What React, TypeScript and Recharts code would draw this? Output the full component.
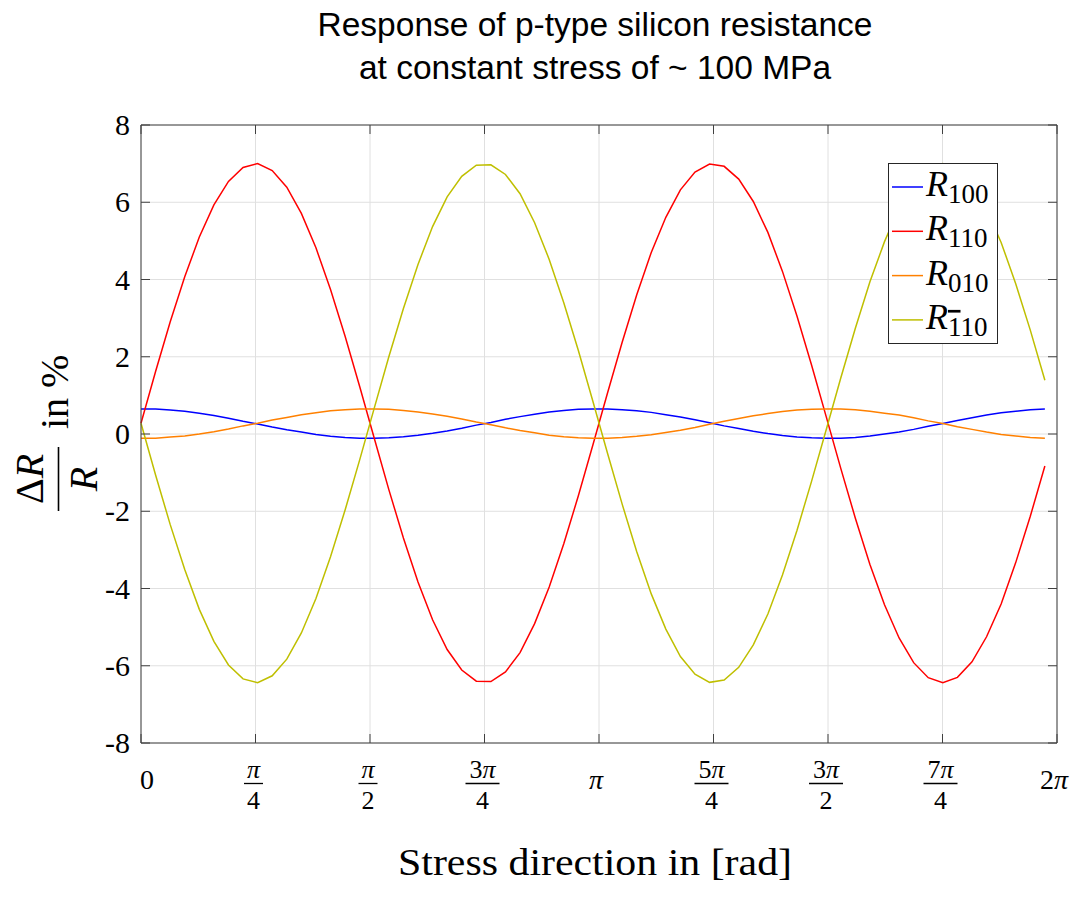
import React from 'react';
import { LineChart, Line, XAxis, YAxis, CartesianGrid, Legend } from 'recharts';

// Stress direction (rad), sampled every 0.1 rad
const theta = [
  0, 0.1, 0.2, 0.3, 0.4, 0.5, 0.6, 0.7, 0.8, 0.9, 1.0, 1.1, 1.2, 1.3, 1.4, 1.5,
  1.6, 1.7, 1.8, 1.9, 2.0, 2.1, 2.2, 2.3, 2.4, 2.5, 2.6, 2.7, 2.8, 2.9, 3.0, 3.1,
  3.2, 3.3, 3.4, 3.5, 3.6, 3.7, 3.8, 3.9, 4.0, 4.1, 4.2, 4.3, 4.4, 4.5, 4.6, 4.7,
  4.8, 4.9, 5.0, 5.1, 5.2, 5.3, 5.4, 5.5, 5.6, 5.7, 5.8, 5.9, 6.0, 6.1, 6.2,
];

// ΔR/R in % for each resistor orientation
const r100 = [
  0.65, 0.65, 0.62, 0.59, 0.54, 0.48, 0.41, 0.33, 0.26, 0.18, 0.11, 0.05, -0.01, -0.06, -0.09, -0.11,
  -0.11, -0.10, -0.07, -0.03, 0.02, 0.08, 0.15, 0.23, 0.30, 0.38, 0.45, 0.51, 0.57, 0.61, 0.64, 0.65,
  0.65, 0.63, 0.60, 0.56, 0.50, 0.44, 0.37, 0.29, 0.21, 0.14, 0.07, 0.01, -0.04, -0.08, -0.10, -0.11,
  -0.11, -0.09, -0.05, 0.00, 0.05, 0.12, 0.20, 0.27, 0.35, 0.42, 0.49, 0.55, 0.59, 0.63, 0.65,
];
const r110 = [
  0.28, 1.62, 2.90, 4.07, 5.10, 5.93, 6.54, 6.90, 7.00, 6.82, 6.39, 5.71, 4.82, 3.74, 2.53, 1.23,
  -0.11, -1.44, -2.69, -3.83, -4.81, -5.58, -6.11, -6.40, -6.41, -6.16, -5.66, -4.91, -3.96, -2.84, -1.60, -0.28,
  1.06, 2.37, 3.60, 4.70, 5.61, 6.32, 6.78, 6.99, 6.93, 6.60, 6.02, 5.22, 4.21, 3.05, 1.78, 0.45,
  -0.89, -2.18, -3.38, -4.42, -5.28, -5.92, -6.31, -6.44, -6.30, -5.90, -5.25, -4.40, -3.33, -2.13, -0.83,
];
const r010 = [
  -0.11, -0.11, -0.08, -0.05, 0.00, 0.06, 0.13, 0.21, 0.28, 0.36, 0.43, 0.50, 0.55, 0.60, 0.63, 0.65,
  0.65, 0.64, 0.61, 0.57, 0.52, 0.46, 0.39, 0.31, 0.24, 0.16, 0.09, 0.03, -0.03, -0.07, -0.10, -0.11,
  -0.11, -0.09, -0.06, -0.02, 0.04, 0.10, 0.17, 0.25, 0.33, 0.40, 0.47, 0.53, 0.58, 0.62, 0.64, 0.65,
  0.65, 0.63, 0.59, 0.54, 0.49, 0.42, 0.34, 0.27, 0.19, 0.12, 0.05, -0.01, -0.05, -0.09, -0.11,
];
const rBar110 = [
  0.28, -1.06, -2.34, -3.51, -4.54, -5.37, -5.98, -6.34, -6.44, -6.26, -5.83, -5.15, -4.26, -3.18, -1.97, -0.67,
  0.67, 2.00, 3.25, 4.39, 5.37, 6.14, 6.67, 6.96, 6.97, 6.72, 6.22, 5.47, 4.52, 3.40, 2.16, 0.84,
  -0.50, -1.81, -3.04, -4.14, -5.05, -5.76, -6.22, -6.43, -6.37, -6.04, -5.46, -4.66, -3.65, -2.49, -1.22, 0.11,
  1.45, 2.74, 3.94, 4.98, 5.84, 6.48, 6.87, 7.00, 6.86, 6.46, 5.81, 4.96, 3.89, 2.69, 1.39,
];

// Axis ticks
const xTickQuarters = [0, 1, 2, 3, 4, 5, 6, 7, 8];
const xTickNumerators = ['0', 'π', 'π', '3π', 'π', '5π', '3π', '7π', '2π'];
const xTickDenominators = ['', '4', '2', '4', '', '4', '2', '4', ''];
const yTicks = [-8, -6, -4, -2, 0, 2, 4, 6, 8];

const titleLines = ['Response of p-type silicon resistance', 'at constant stress of ~ 100 MPa'];
const xLabel = 'Stress direction in [rad]';

const series = [
  { key: 'r100', color: '#0000ff', sub: '100', bar: false },
  { key: 'r110', color: '#ff0000', sub: '110', bar: false },
  { key: 'r010', color: '#ff8000', sub: '010', bar: false },
  { key: 'rBar110', color: '#bfbf00', sub: '110', bar: true },
];

const TWO_PI = 2 * Math.PI;
const xTicks = xTickQuarters.map((q) => (q * Math.PI) / 4);

const data = theta.map((t, i) => ({
  theta: t,
  r100: r100[i],
  r110: r110[i],
  r010: r010[i],
  rBar110: rBar110[i],
}));

const SERIF = '"Liberation Serif", "Times New Roman", serif';
const SANS = '"Liberation Sans", Arial, sans-serif';
const AXIS = '#404040';
const TICK_LEN = 9;

const renderPi = (s: string) => {
  const parts = s.split('π');
  if (parts.length === 1) return s;
  return (
    <>
      {parts[0]}
      <tspan fontStyle="italic">π</tspan>
      {parts[1]}
    </>
  );
};

const XTickBottom = (props: any) => {
  const { x, y, payload } = props;
  const k = Math.round(payload.value / (Math.PI / 4));
  const num = xTickNumerators[k];
  const den = xTickDenominators[k];
  const barW = num.length > 1 ? 34 : 19;
  return (
    <g>
      <line x1={x} x2={x} y1={y} y2={y - TICK_LEN} stroke={AXIS} strokeWidth={1} />
      {den ? (
        <g fontFamily={SERIF} fill="#000">
          <text x={x - 2} y={y + 35} textAnchor="middle" fontSize={26}>
            {renderPi(num)}
          </text>
          <line x1={x - 2 - barW / 2} x2={x - 2 + barW / 2} y1={y + 40.5} y2={y + 40.5} stroke="#000" strokeWidth={1.3} />
          <text x={x - 2} y={y + 66} textAnchor="middle" fontSize={26}>
            {den}
          </text>
        </g>
      ) : (
        <text x={x + (k === 0 ? 6 : -3)} y={y + 46} textAnchor="middle" fontSize={28} fontFamily={SERIF} fill="#000">
          {renderPi(num)}
        </text>
      )}
    </g>
  );
};

const XTickTop = (props: any) => {
  const { x, y } = props;
  return <line x1={x} x2={x} y1={y} y2={y + TICK_LEN} stroke={AXIS} strokeWidth={1} />;
};

const YTickLeft = (props: any) => {
  const { x, y, payload } = props;
  return (
    <g>
      <line x1={x} x2={x + TICK_LEN} y1={y} y2={y} stroke={AXIS} strokeWidth={1} />
      <text x={x - 11} y={y} dy={10} textAnchor="end" fontSize={30} fontFamily={SERIF} fill="#000">
        {String(payload.value)}
      </text>
    </g>
  );
};

const YTickRight = (props: any) => {
  const { x, y } = props;
  return <line x1={x - TICK_LEN} x2={x} y1={y} y2={y} stroke={AXIS} strokeWidth={1} />;
};

const TitleLabel = (props: any) => {
  const vb = props.viewBox;
  const cx = vb.x + vb.width / 2 - 4;
  const base = vb.y + vb.height;
  return (
    <g fontFamily={SANS} fontSize={33.5} fill="#000" textAnchor="middle">
      <text x={cx} y={base - 89}>{titleLines[0]}</text>
      <text x={cx} y={base - 46}>{titleLines[1]}</text>
    </g>
  );
};

const XAxisLabel = (props: any) => {
  const vb = props.viewBox;
  return (
    <text
      x={vb.x + vb.width / 2 - 4}
      y={vb.y + 132}
      textAnchor="middle"
      fontFamily={SERIF}
      fontSize={38}
      textLength={394}
      lengthAdjust="spacingAndGlyphs"
      fill="#000"
    >
      {xLabel}
    </text>
  );
};

const YAxisLabel = (props: any) => {
  const vb = props.viewBox;
  const cx = vb.x + 58.5;
  const cy = vb.y + vb.height / 2 + 46;
  return (
    <g transform={`translate(${cx},${cy}) rotate(-90)`} fontFamily={SERIF} fill="#000">
      <text x={1} y={-16} textAnchor="middle" fontSize={40}>
        Δ<tspan fontStyle="italic">R</tspan>
      </text>
      <line x1={-31} x2={33} y1={0} y2={0} stroke="#000" strokeWidth={1.6} />
      <text x={1} y={38} textAnchor="middle" fontSize={40} fontStyle="italic">
        R
      </text>
      <text x={51} y={9.5} fontSize={40}>
        in %
      </text>
    </g>
  );
};

const LegendContent = () => (
  <svg width={110} height={181} style={{ display: 'block' }}>
    <rect x={0.5} y={0.5} width={109} height={180} fill="#fff" stroke="#262626" strokeWidth={1} />
    {series.map((s, i) => {
      const cy = 24 + i * 44.3;
      return (
        <g key={s.key}>
          <line x1={4} x2={35} y1={cy} y2={cy} stroke={s.color} strokeWidth={1.5} />
          <text x={38} y={cy + 9} fontFamily={SERIF} fontSize={36} fontStyle="italic" fill="#000">
            R
            <tspan fontStyle="normal" fontSize={27} dy={7}>
              {s.bar ? (
                <>
                  <tspan style={{ textDecoration: 'overline' }}>1</tspan>10
                </>
              ) : (
                s.sub
              )}
            </tspan>
          </text>
        </g>
      );
    })}
  </svg>
);

export default function App() {
  return (
    <div style={{ position: 'absolute', left: 0, top: 0, background: '#fff' }}>
      <LineChart width={1077} height={899} data={data} margin={{ top: 124, right: 19, left: 0, bottom: 0 }}>
        <CartesianGrid stroke="#e0e0e0" strokeWidth={1} />
        <XAxis
          dataKey="theta"
          type="number"
          domain={[0, TWO_PI]}
          ticks={xTicks}
          interval={0}
          height={156}
          tickSize={0}
          tickMargin={0}
          tickLine={false}
          axisLine={{ stroke: AXIS, strokeWidth: 1 }}
          tick={XTickBottom}
          label={XAxisLabel}
        />
        <XAxis
          xAxisId="top"
          orientation="top"
          dataKey="theta"
          type="number"
          domain={[0, TWO_PI]}
          ticks={xTicks}
          interval={0}
          height={1}
          tickSize={0}
          tickMargin={0}
          tickLine={false}
          axisLine={{ stroke: AXIS, strokeWidth: 1 }}
          tick={XTickTop}
          label={TitleLabel}
        />
        <YAxis
          type="number"
          domain={[-8, 8]}
          ticks={yTicks}
          interval={0}
          width={141}
          tickSize={0}
          tickMargin={0}
          tickLine={false}
          axisLine={{ stroke: AXIS, strokeWidth: 1 }}
          tick={YTickLeft}
          label={YAxisLabel}
        />
        <YAxis
          yAxisId="right"
          orientation="right"
          type="number"
          domain={[-8, 8]}
          ticks={yTicks}
          interval={0}
          width={1}
          tickSize={0}
          tickMargin={0}
          tickLine={false}
          axisLine={{ stroke: AXIS, strokeWidth: 1 }}
          tick={YTickRight}
        />
        {series.map((s) => (
          <Line
            key={s.key}
            type="linear"
            dataKey={s.key}
            stroke={s.color}
            strokeWidth={1.5}
            dot={false}
            activeDot={false}
            isAnimationActive={false}
          />
        ))}
        <Line
          xAxisId="top"
          yAxisId="right"
          dataKey="r100"
          stroke="none"
          strokeWidth={0}
          dot={false}
          activeDot={false}
          legendType="none"
          isAnimationActive={false}
        />
        <Legend
          layout="vertical"
          align="center"
          verticalAlign="middle"
          wrapperStyle={{ left: 888, top: 163, width: 110, height: 181 }}
          content={LegendContent}
        />
      </LineChart>
    </div>
  );
}
